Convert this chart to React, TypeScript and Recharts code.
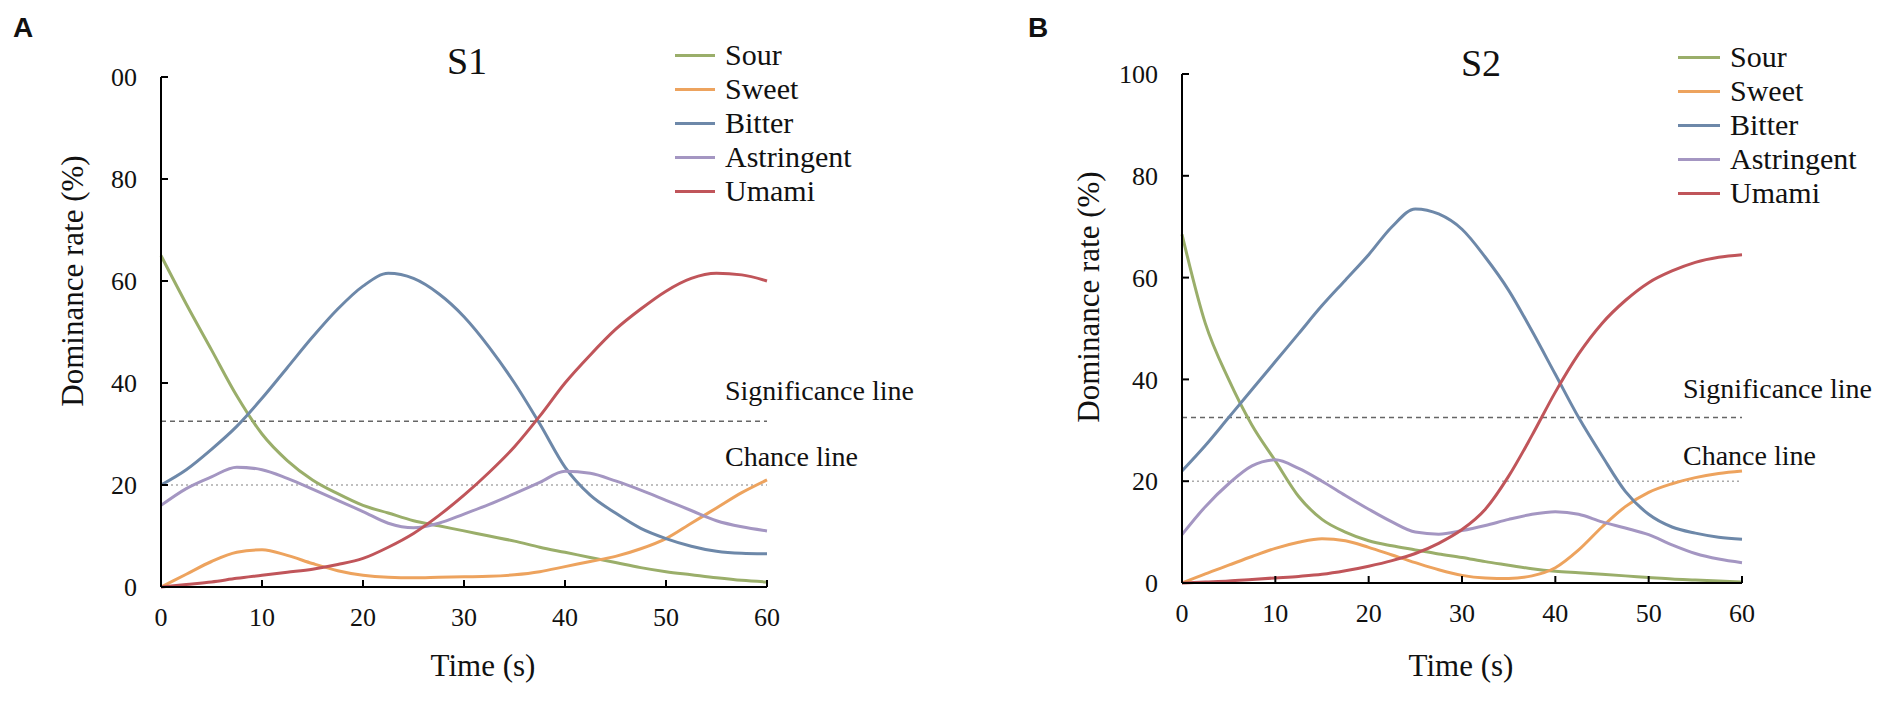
import { LineChart, Line, XAxis, YAxis, ReferenceLine, Legend } from "recharts"

// time points (s)
const TIME = [
  0, 2.5, 5, 7.5, 10, 12.5, 15, 17.5, 20, 22.5, 25, 27.5, 30,
  32.5, 35, 37.5, 40, 42.5, 45, 47.5, 50, 52.5, 55, 57.5, 60,
]
const X_TICKS = [0, 10, 20, 30, 40, 50, 60]
const Y_TICKS = [0, 20, 40, 60, 80, 100]

const SIGNIFICANCE = 32.5
const CHANCE = 20

// S1 dominance rates (%)
const S1_SOUR = [65, 55.5, 46.5, 37.5, 30, 24.8, 21, 18.3, 16, 14.5, 13, 12, 11, 10, 9, 7.8, 6.8, 5.8, 4.8, 3.8, 3, 2.4, 1.8, 1.3, 1]
const S1_SWEET = [0, 2.5, 5, 6.8, 7.3, 6.2, 4.6, 3.2, 2.3, 1.9, 1.8, 1.9, 2, 2.1, 2.4, 3, 4, 5, 6, 7.5, 9.5, 12.5, 15.5, 18.5, 21]
const S1_BITTER = [20, 23, 27, 31.5, 37, 43, 49, 54.5, 59, 61.5, 60.5, 57.5, 53, 47, 40, 32, 23.5, 18, 14.5, 11.5, 9.5, 8, 7, 6.6, 6.5]
const S1_ASTRINGENT = [16, 19.3, 21.6, 23.5, 23, 21.3, 19.2, 17, 14.8, 12.5, 11.6, 12.5, 14.3, 16.2, 18.3, 20.5, 22.7, 22.3, 20.8, 19, 17, 15, 13, 11.8, 11]
const S1_UMAMI = [0, 0.5, 1, 1.7, 2.3, 2.9, 3.5, 4.4, 5.6, 7.8, 10.5, 14, 18, 22.5, 27.5, 33.5, 40, 45.5, 50.5, 54.5, 58, 60.5, 61.5, 61.2, 60]

// S2 dominance rates (%)
const S2_SOUR = [68.5, 51, 40, 31, 24, 17, 12.5, 10, 8.3, 7.3, 6.5, 5.7, 5, 4.2, 3.5, 2.8, 2.3, 2, 1.7, 1.4, 1.1, 0.8, 0.6, 0.4, 0.2]
const S2_SWEET = [0, 1.8, 3.5, 5.2, 6.8, 8, 8.7, 8.3, 7, 5.5, 4, 2.6, 1.5, 1, 0.9, 1.4, 3, 6.5, 11, 15, 17.8, 19.5, 20.7, 21.5, 22]
const S2_BITTER = [22, 27, 32.5, 38, 43.5, 49, 54.5, 59.5, 64.5, 70, 73.5, 72.5, 69.5, 64, 57.5, 49.5, 41, 32.5, 25, 18, 13.5, 11, 9.8, 9, 8.6]
const S2_ASTRINGENT = [9.5, 15, 19.5, 23, 24.2, 22.5, 20, 17.2, 14.5, 12, 10, 9.6, 10.3, 11.3, 12.5, 13.5, 14, 13.5, 12, 10.8, 9.5, 7.5, 5.8, 4.7, 4]
const S2_UMAMI = [0, 0.2, 0.4, 0.7, 1, 1.3, 1.7, 2.4, 3.3, 4.4, 5.8, 7.8, 10.5, 14.5, 21, 29, 37.5, 45, 51, 55.5, 59, 61.3, 63, 64, 64.5]

const SERIES = [
  { key: "sour", name: "Sour", color: "#9aae6a" },
  { key: "sweet", name: "Sweet", color: "#eda35e" },
  { key: "bitter", name: "Bitter", color: "#6d88a9" },
  { key: "astringent", name: "Astringent", color: "#a496c2" },
  { key: "umami", name: "Umami", color: "#c0555a" },
]

const SERIF = "'Liberation Serif', 'Times New Roman', serif"

const s1Data = TIME.map((t, i) => ({
  t,
  sour: S1_SOUR[i],
  sweet: S1_SWEET[i],
  bitter: S1_BITTER[i],
  astringent: S1_ASTRINGENT[i],
  umami: S1_UMAMI[i],
}))

const s2Data = TIME.map((t, i) => ({
  t,
  sour: S2_SOUR[i],
  sweet: S2_SWEET[i],
  bitter: S2_BITTER[i],
  astringent: S2_ASTRINGENT[i],
  umami: S2_UMAMI[i],
}))

function LegendBox({ lineWidth }: { lineWidth: number }) {
  return (
    <div style={{ fontFamily: SERIF, fontSize: 30, color: "#111" }}>
      {SERIES.map((s) => (
        <div key={s.key} style={{ display: "flex", alignItems: "center", height: 34 }}>
          <div style={{ width: lineWidth, height: 3, background: s.color, marginRight: 10, flexShrink: 0 }} />
          <span style={{ lineHeight: "34px", whiteSpace: "nowrap" }}>{s.name}</span>
        </div>
      ))}
    </div>
  )
}

function Panel({
  data,
  width,
  yAxisWidth,
  margin,
  legendLeft,
  legendTop,
  legendLine,
  yFormat,
}: {
  data: any[]
  width: number
  yAxisWidth: number
  margin: { top: number; right: number; bottom: number; left: number }
  legendLeft: number
  legendTop: number
  legendLine: number
  yFormat?: (v: number) => string
}) {
  const tickStyle = { fill: "#111", fontSize: 26, fontFamily: SERIF }
  return (
    <LineChart width={width} height={701} data={data} margin={margin}>
      <XAxis
        dataKey="t"
        type="number"
        domain={[0, 60]}
        ticks={X_TICKS}
        interval={0}
        height={30}
        tickSize={-7}
        tickMargin={28}
        axisLine={{ stroke: "#000", strokeWidth: 2 }}
        tickLine={{ stroke: "#000", strokeWidth: 2 }}
        tick={tickStyle}
      />
      <YAxis
        type="number"
        domain={[0, 100]}
        ticks={Y_TICKS}
        interval={0}
        width={yAxisWidth}
        tickSize={-7}
        tickMargin={31}
        tickFormatter={yFormat}
        axisLine={{ stroke: "#000", strokeWidth: 2 }}
        tickLine={{ stroke: "#000", strokeWidth: 2 }}
        tick={tickStyle}
      />
      <ReferenceLine y={SIGNIFICANCE} stroke="#666" strokeWidth={1.5} strokeDasharray="5 4" />
      <ReferenceLine y={CHANCE} stroke="#aaa" strokeWidth={1.5} strokeDasharray="2 3" />
      {SERIES.map((s) => (
        <Line
          key={s.key}
          type="monotone"
          dataKey={s.key}
          name={s.name}
          stroke={s.color}
          strokeWidth={3}
          dot={false}
          isAnimationActive={false}
        />
      ))}
      <Legend
        layout="horizontal"
        verticalAlign="middle"
        align="center"
        content={() => <LegendBox lineWidth={legendLine} />}
        wrapperStyle={{ position: "absolute", left: legendLeft, top: legendTop, width: 240 }}
      />
    </LineChart>
  )
}

export default function App() {
  const text = { fontFamily: SERIF, fill: "#111" }
  return (
    <div style={{ position: "absolute", left: 0, top: 0, width: 1902, height: 701, background: "#fff", overflow: "hidden" }}>
      <div style={{ position: "absolute", left: 0, top: 0 }}>
        <Panel
          data={s1Data}
          width={900}
          yAxisWidth={161}
          margin={{ top: 77, right: 133, bottom: 84, left: 0 }}
          legendLeft={675}
          legendTop={38}
          legendLine={40}
          yFormat={(v: number) => (v === 100 ? "00" : String(v))}
        />
      </div>
      <div style={{ position: "absolute", left: 960, top: 0 }}>
        <Panel
          data={s2Data}
          width={942}
          yAxisWidth={222}
          margin={{ top: 74, right: 160, bottom: 88, left: 0 }}
          legendLeft={718}
          legendTop={40}
          legendLine={42}
        />
      </div>
      <svg width={1902} height={701} style={{ position: "absolute", left: 0, top: 0, pointerEvents: "none" }}>
        <text x={13} y={37} fontFamily="'Liberation Sans', Arial, sans-serif" fontWeight="bold" fontSize={28} fill="#111">A</text>
        <text x={1028} y={37} fontFamily="'Liberation Sans', Arial, sans-serif" fontWeight="bold" fontSize={28} fill="#111">B</text>

        <text x={467} y={61} textAnchor="middle" dominantBaseline="central" fontSize={38} {...text}>S1</text>
        <text x={1481} y={63} textAnchor="middle" dominantBaseline="central" fontSize={38} {...text}>S2</text>

        <text x={72} y={281} transform="rotate(-90, 72, 281)" textAnchor="middle" dominantBaseline="central" fontSize={31} {...text}>
          Dominance rate (%)
        </text>
        <text x={1088} y={297} transform="rotate(-90, 1088, 297)" textAnchor="middle" dominantBaseline="central" fontSize={31} {...text}>
          Dominance rate (%)
        </text>

        <text x={483} y={665} textAnchor="middle" dominantBaseline="central" fontSize={31} {...text}>Time (s)</text>
        <text x={1461} y={665} textAnchor="middle" dominantBaseline="central" fontSize={31} {...text}>Time (s)</text>

        <text x={725} y={390} dominantBaseline="central" fontSize={28} {...text}>Significance line</text>
        <text x={725} y={456} dominantBaseline="central" fontSize={28} {...text}>Chance line</text>
        <text x={1683} y={388} dominantBaseline="central" fontSize={28} {...text}>Significance line</text>
        <text x={1683} y={455} dominantBaseline="central" fontSize={28} {...text}>Chance line</text>
      </svg>
    </div>
  )
}
